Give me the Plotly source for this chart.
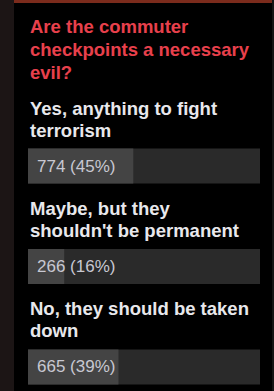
import plotly.graph_objects as go

title_lines = ["Are the commuter", "checkpoints a necessary", "evil?"]
answers = [
    "Yes, anything to fight<br>terrorism",
    "Maybe, but they<br>shouldn't be permanent",
    "No, they should be taken<br>down",
]
votes = [774, 266, 665]
percents = [45, 16, 39]

W, H = 274, 391
total = sum(votes)
shares = [v / total * 100 for v in votes]
ypos = list(range(len(answers)))

FONT = "Liberation Sans, Arial, Helvetica, sans-serif"

fig = go.Figure()
fig.add_trace(go.Bar(
    x=[100] * len(answers), y=ypos, orientation="h", width=0.35,
    marker=dict(color="#2a2a2a", line=dict(width=0)), hoverinfo="skip",
))
fig.add_trace(go.Bar(
    x=shares, y=ypos, orientation="h", width=0.35,
    marker=dict(color="#444444", line=dict(width=0)), hoverinfo="skip",
))

ann = []
# title lines
title_centers = [27, 50, 72]
for line, yc in zip(title_lines, title_centers):
    ann.append(dict(text=f"<b>{line}</b>", x=28 / W, y=1 - yc / H, xref="paper", yref="paper",
                    xanchor="left", yanchor="middle", showarrow=False,
                    font=dict(family=FONT, size=18.5, color="#e8404c")))
# answer labels and counts
for i, (a, v, p) in enumerate(zip(answers, votes, percents)):
    for j, line in enumerate(a.split("<br>")):
        ann.append(dict(text=f"<b>{line}</b>", x=0, y=i, xref="x", yref="y",
                        xanchor="left", yanchor="middle", showarrow=False,
                        yshift=58 - 22 * j,
                        font=dict(family=FONT, size=18.5, color="#e8e8ec")))
    ann.append(dict(text=f"{v} ({p}%)", x=0, y=i, xref="x", yref="y",
                    xanchor="left", yanchor="middle", showarrow=False, xshift=7,
                    font=dict(family=FONT, size=17, color="#c8c8d2")))

shapes = [
    dict(type="rect", xref="paper", yref="paper", x0=0, x1=14 / W, y0=0, y1=1,
         fillcolor="#1c1515", line=dict(width=0), layer="below"),
    dict(type="rect", xref="paper", yref="paper", x0=14 / W, x1=272 / W, y0=1 - 3 / H, y1=1,
         fillcolor="#7b2b1c", line=dict(width=0), layer="below"),
    dict(type="rect", xref="paper", yref="paper", x0=272 / W, x1=1, y0=0, y1=1,
         fillcolor="#141414", line=dict(width=0), layer="below"),
]

fig.update_layout(
    width=W, height=H, margin=dict(l=0, r=0, t=0, b=0),
    paper_bgcolor="#000000", plot_bgcolor="rgba(0,0,0,0)",
    barmode="overlay", showlegend=False,
    xaxis=dict(domain=[28 / W, 260 / W], range=[0, 100], visible=False, fixedrange=True),
    yaxis=dict(domain=[0, 1], range=[2.239, -1.652], visible=False, fixedrange=True),
    annotations=ann, shapes=shapes,
)

fig.write_html(
    "out.html",
    config={"displayModeBar": False},
    post_script="document.body.style.margin='0';document.body.style.padding='0';"
                "document.body.style.background='#000';",
)
